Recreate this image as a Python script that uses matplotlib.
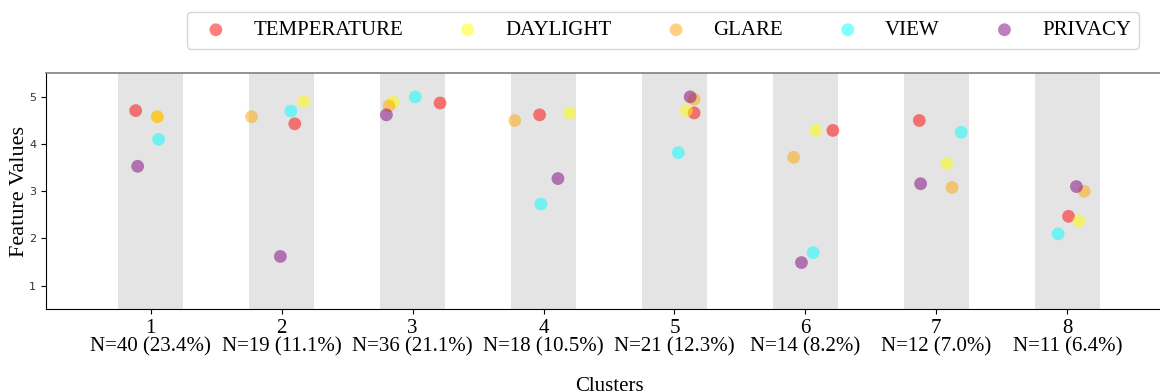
import matplotlib
matplotlib.use("Agg")
import matplotlib.pyplot as plt
import numpy as np

clusters = [1, 2, 3, 4, 5, 6, 7, 8]
cluster_labels = ["N=40 (23.4%)", "N=19 (11.1%)", "N=36 (21.1%)", "N=18 (10.5%)",
                  "N=21 (12.3%)", "N=14 (8.2%)", "N=12 (7.0%)", "N=11 (6.4%)"]
features = ["TEMPERATURE", "DAYLIGHT", "GLARE", "VIEW", "PRIVACY"]

temperature = [4.71, 4.43, 4.87, 4.62, 4.66, 4.29, 4.50, 2.47]
daylight = [4.58, 4.90, 4.89, 4.66, 4.71, 4.29, 3.59, 2.37]
glare = [4.58, 4.58, 4.81, 4.50, 4.95, 3.72, 3.08, 3.00]
view = [4.10, 4.70, 5.00, 2.73, 3.82, 1.70, 4.25, 2.10]
privacy = [3.53, 1.62, 4.62, 3.27, 5.00, 1.49, 3.16, 3.10]

# horizontal jitter offsets
jit_temperature = [-0.115, 0.10, 0.21, -0.03, 0.15, 0.21, -0.13, 0.01]
jit_daylight = [0.05, 0.17, -0.15, 0.20, 0.09, 0.08, 0.08, 0.09]
jit_glare = [0.05, -0.23, -0.18, -0.22, 0.15, -0.09, 0.12, 0.13]
jit_view = [0.06, 0.07, 0.02, -0.02, 0.03, 0.06, 0.19, -0.07]
jit_privacy = [-0.10, -0.01, -0.20, 0.11, 0.12, -0.03, -0.12, 0.07]

values = [temperature, daylight, glare, view, privacy]
jitters = [jit_temperature, jit_daylight, jit_glare, jit_view, jit_privacy]
colors = ["red", "yellow", "orange", "cyan", "purple"]

serif = ["Liberation Serif", "DejaVu Serif"]

fig = plt.figure(figsize=(11.6, 3.92), dpi=100)
ax = fig.add_axes([46 / 1160, 82.7 / 392, 1126 / 1160, 236 / 392])

for c in clusters:
    ax.axvspan(c - 0.25, c + 0.25, color="#e4e4e4", zorder=0, lw=0)

for name, vals, jit, col in zip(features, values, jitters, colors):
    xs = np.array(clusters) + np.array(jit)
    ax.scatter(xs, vals, s=85, color=col, alpha=0.5, label=name,
               edgecolors="none", zorder=3)

ax.set_xlim(0.2, 8.8)
ax.set_ylim(0.5, 5.5)
ax.set_yticks([1, 2, 3, 4, 5])
ax.tick_params(axis="y", labelsize=8, labelcolor="#333333")
ax.set_xticks(clusters)
ax.set_xticklabels([f"{c}\n{l}" for c, l in zip(clusters, cluster_labels)],
                   fontsize=15, family=serif, linespacing=0.95)
ax.spines["right"].set_visible(False)
ax.spines["top"].set_color("0.5")
ax.spines["top"].set_linewidth(1.2)
ax.set_ylabel("Feature Values", fontsize=16, family=serif, labelpad=0)
ax.set_xlabel("Clusters", fontsize=15, family=serif, labelpad=15)

leg = fig.legend(loc="upper left", bbox_to_anchor=(186.7 / 1160, 1 - 12.3 / 392),
                 bbox_transform=fig.transFigure, ncol=5, borderaxespad=0,
                 columnspacing=2.1, handletextpad=0.8,
                 prop={"family": serif, "size": 15})

fig.savefig("out.png", dpi=100)
